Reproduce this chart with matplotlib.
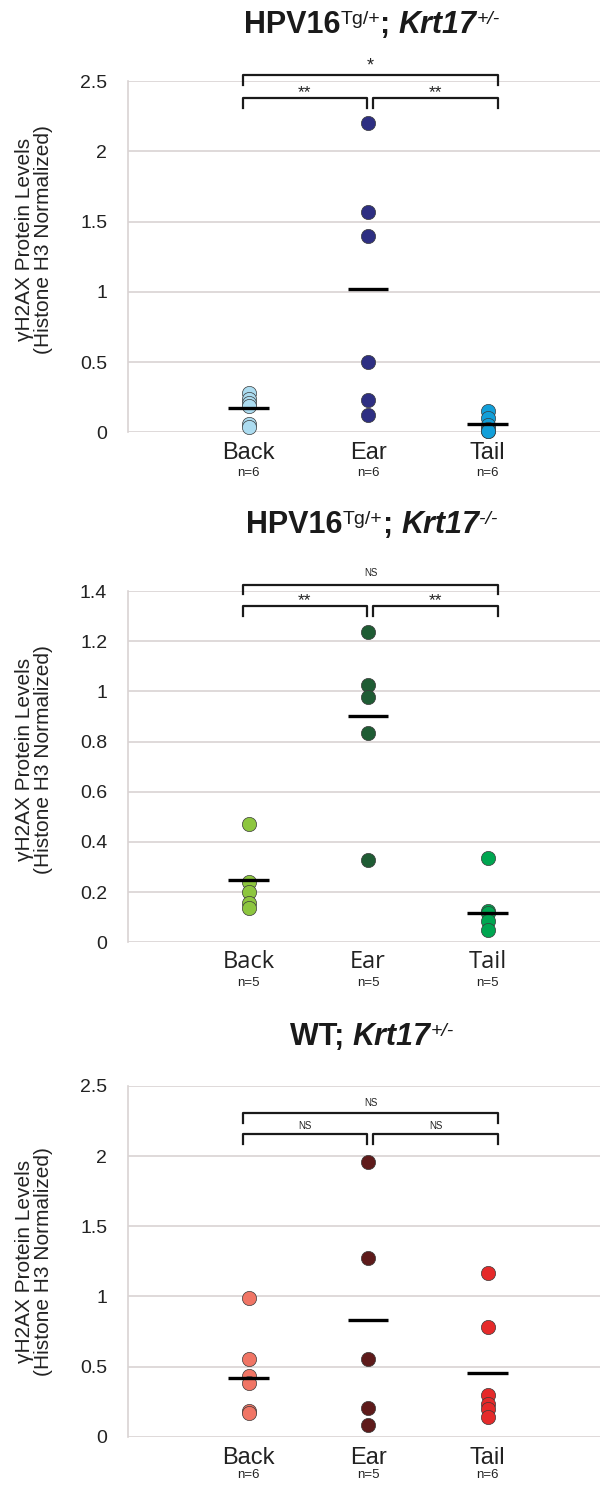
import matplotlib
matplotlib.use('Agg')
import matplotlib.pyplot as plt

plt.rcParams['font.family'] = ['Liberation Sans', 'DejaVu Sans']

# data
SITES = ['Back', 'Ear', 'Tail']

HPV_HET_BACK = [0.28, 0.24, 0.21, 0.19, 0.06, 0.04]
HPV_HET_EAR = [2.20, 1.57, 1.40, 0.50, 0.23, 0.12]
HPV_HET_TAIL = [0.15, 0.10, 0.05, 0.02, 0.01, 0.01]
HPV_HET_MEANS = [0.17, 1.02, 0.057]

HPV_KO_BACK = [0.47, 0.24, 0.20, 0.155, 0.135]
HPV_KO_EAR = [1.235, 1.025, 0.976, 0.835, 0.328]
HPV_KO_TAIL = [0.335, 0.125, 0.115, 0.085, 0.05]
HPV_KO_MEANS = [0.248, 0.903, 0.115]

WT_HET_BACK = [0.986, 0.551, 0.432, 0.38, 0.185, 0.17]
WT_HET_EAR = [1.958, 1.274, 0.553, 0.206, 0.085]
WT_HET_TAIL = [1.17, 0.78, 0.30, 0.23, 0.20, 0.14]
WT_HET_MEANS = [0.416, 0.831, 0.455]

# significance: (back vs ear, ear vs tail, back vs tail)
HPV_HET_SIG = ['**', '**', '*']
HPV_KO_SIG = ['**', '**', 'NS']
WT_HET_SIG = ['NS', 'NS', 'NS']

# title pieces: (text, kind) kind: b=bold, bi=bold italic, sup=superscript, supi=italic superscript
TITLES = [
    [('HPV16', 'b'), ('Tg/+', 'sup'), ('; ', 'b'), ('Krt17', 'bi'), ('+/-', 'supi')],
    [('HPV16', 'b'), ('Tg/+', 'sup'), ('; ', 'b'), ('Krt17', 'bi'), ('-/-', 'supi')],
    [('WT; ', 'b'), ('Krt17', 'bi'), ('+/-', 'supi')],
]

PANELS = [
    dict(groups=[HPV_HET_BACK, HPV_HET_EAR, HPV_HET_TAIL], means=HPV_HET_MEANS,
         sig=HPV_HET_SIG, title=TITLES[0],
         colors=['#acdcf0', '#2e2f82', '#129fd9'],
         ylim=2.5, ticks=[0, 0.5, 1, 1.5, 2, 2.5], ticklabels=['0', '0.5', '1', '1.5', '2', '2.5'],
         top=81, bottom=432.3, title_y=33,
         br=[(2.377, 2.31, 2.42), (2.543, 2.47, 2.605)], labfont='Liberation Sans',
         lab_y=(-0.059, -0.116), ylab_c=0.55),
    dict(groups=[HPV_KO_BACK, HPV_KO_EAR, HPV_KO_TAIL], means=HPV_KO_MEANS,
         sig=HPV_KO_SIG, title=TITLES[1],
         colors=['#8dc63f', '#1f5c34', '#00a651'],
         ylim=1.4, ticks=[0, 0.2, 0.4, 0.6, 0.8, 1.0, 1.2, 1.4],
         ticklabels=['0', '0.2', '0.4', '0.6', '0.8', '1', '1.2', '1.4'],
         top=591, bottom=942.3, title_y=533,
         br=[(1.34, 1.30, 1.362), (1.424, 1.388, 1.4705)], labfont='Open Sans',
         lab_y=(-0.056, -0.116), ylab_c=0.52),
    dict(groups=[WT_HET_BACK, WT_HET_EAR, WT_HET_TAIL], means=WT_HET_MEANS,
         sig=WT_HET_SIG, title=TITLES[2],
         colors=['#f07565', '#5e1b1b', '#e52a2a'],
         ylim=2.5, ticks=[0, 0.5, 1, 1.5, 2, 2.5], ticklabels=['0', '0.5', '1', '1.5', '2', '2.5'],
         top=1086, bottom=1436.7, title_y=1045,
         br=[(2.156, 2.087, 2.217), (2.305, 2.234, 2.379)], labfont='Liberation Sans',
         lab_y=(-0.061, -0.109), ylab_c=0.50),
]

W, H = 600, 1485
fig = plt.figure(figsize=(W / 100, H / 100), dpi=100)
renderer = fig.canvas.get_renderer()
GRID = '#d9d3d3'
LEFT = 128
SIG_SIZE = {'*': 13, '**': 12.5}


def draw_title(pieces, cx, baseline):
    styles = {'b': dict(weight='bold', size=22, rise=0),
              'bi': dict(weight='bold', style='italic', size=22, rise=0),
              'sup': dict(weight='normal', size=14, rise=8.5),
              'supi': dict(weight='normal', style='italic', size=14, rise=8.5)}
    texts = []
    x = 0
    for txt, kind in pieces:
        st = dict(styles[kind])
        rise = st.pop('rise')
        t = fig.text(0, 1 - (baseline - rise) / H, txt, ha='left', va='baseline',
                     color='#1a1a1a', **st)
        w = t.get_window_extent(renderer).width
        texts.append((t, x))
        x += w
    x0 = cx - x / 2
    for t, off in texts:
        t.set_x((x0 + off) / W)


for p in PANELS:
    ax = fig.add_axes([LEFT / W, 1 - p['bottom'] / H, 1 - LEFT / W, (p['bottom'] - p['top']) / H])
    ax.set_xlim(-0.01, 3.94)
    ax.set_ylim(0, p['ylim'])
    ax.set_yticks(p['ticks'])
    ax.set_yticklabels(p['ticklabels'])
    ax.tick_params(axis='y', length=0, pad=15, labelsize=14, labelcolor='#222222')
    ax.set_xticks([])
    ax.grid(axis='y', color=GRID, lw=1.2, zorder=0)
    for s in ['top', 'right', 'bottom']:
        ax.spines[s].set_visible(False)
    ax.spines['left'].set_color(GRID)
    ax.spines['left'].set_linewidth(1.2)
    ax.set_axisbelow(True)

    for i, vals in enumerate(p['groups']):
        x = i + 1
        ax.scatter([x] * len(vals), vals, s=105, color=p['colors'][i],
                   edgecolor='#3a3a3a', linewidth=0.5, zorder=3, clip_on=False)
        ax.hlines(p['means'][i], x - 0.17, x + 0.17, color='black', lw=2.4, zorder=4)
        ax.text(x, p['lab_y'][0], SITES[i], transform=ax.get_xaxis_transform(),
                ha='center', va='center', fontsize=17, family=p['labfont'], color='#222222')
        ax.text(x, p['lab_y'][1], 'n=%d' % len(vals), transform=ax.get_xaxis_transform(),
                ha='center', va='center', fontsize=9.5, color='#222222')

    # significance brackets
    low, high = p['br']
    pairs = [(0.95, 1.99), (2.04, 3.09)]
    for (x0, x1), lab in zip(pairs, p['sig'][:2]):
        ax.plot([x0, x0, x1, x1], [low[1], low[0], low[0], low[1]], color='#1a1a1a',
                lw=1.6, clip_on=False, zorder=5)
        ax.text((x0 + x1) / 2, low[2], lab, ha='center', va='center',
                fontsize=SIG_SIZE.get(lab, 7), color='#222222')
    ax.plot([0.95, 0.95, 3.09, 3.09], [high[1], high[0], high[0], high[1]], color='#1a1a1a',
            lw=1.6, clip_on=False, zorder=5)
    ax.text(2.02, high[2], p['sig'][2], ha='center', va='center',
            fontsize=SIG_SIZE.get(p['sig'][2], 7), color='#222222')

    ax.set_ylabel('\u03b3H2AX Protein Levels\n(Histone H3 Normalized)', fontsize=15,
                  color='#222222', linespacing=1.05)
    ax.yaxis.set_label_coords(-0.158, p['ylab_c'])

    draw_title(p['title'], 372, p['title_y'])

fig.savefig('out.png', dpi=100, facecolor='white')
